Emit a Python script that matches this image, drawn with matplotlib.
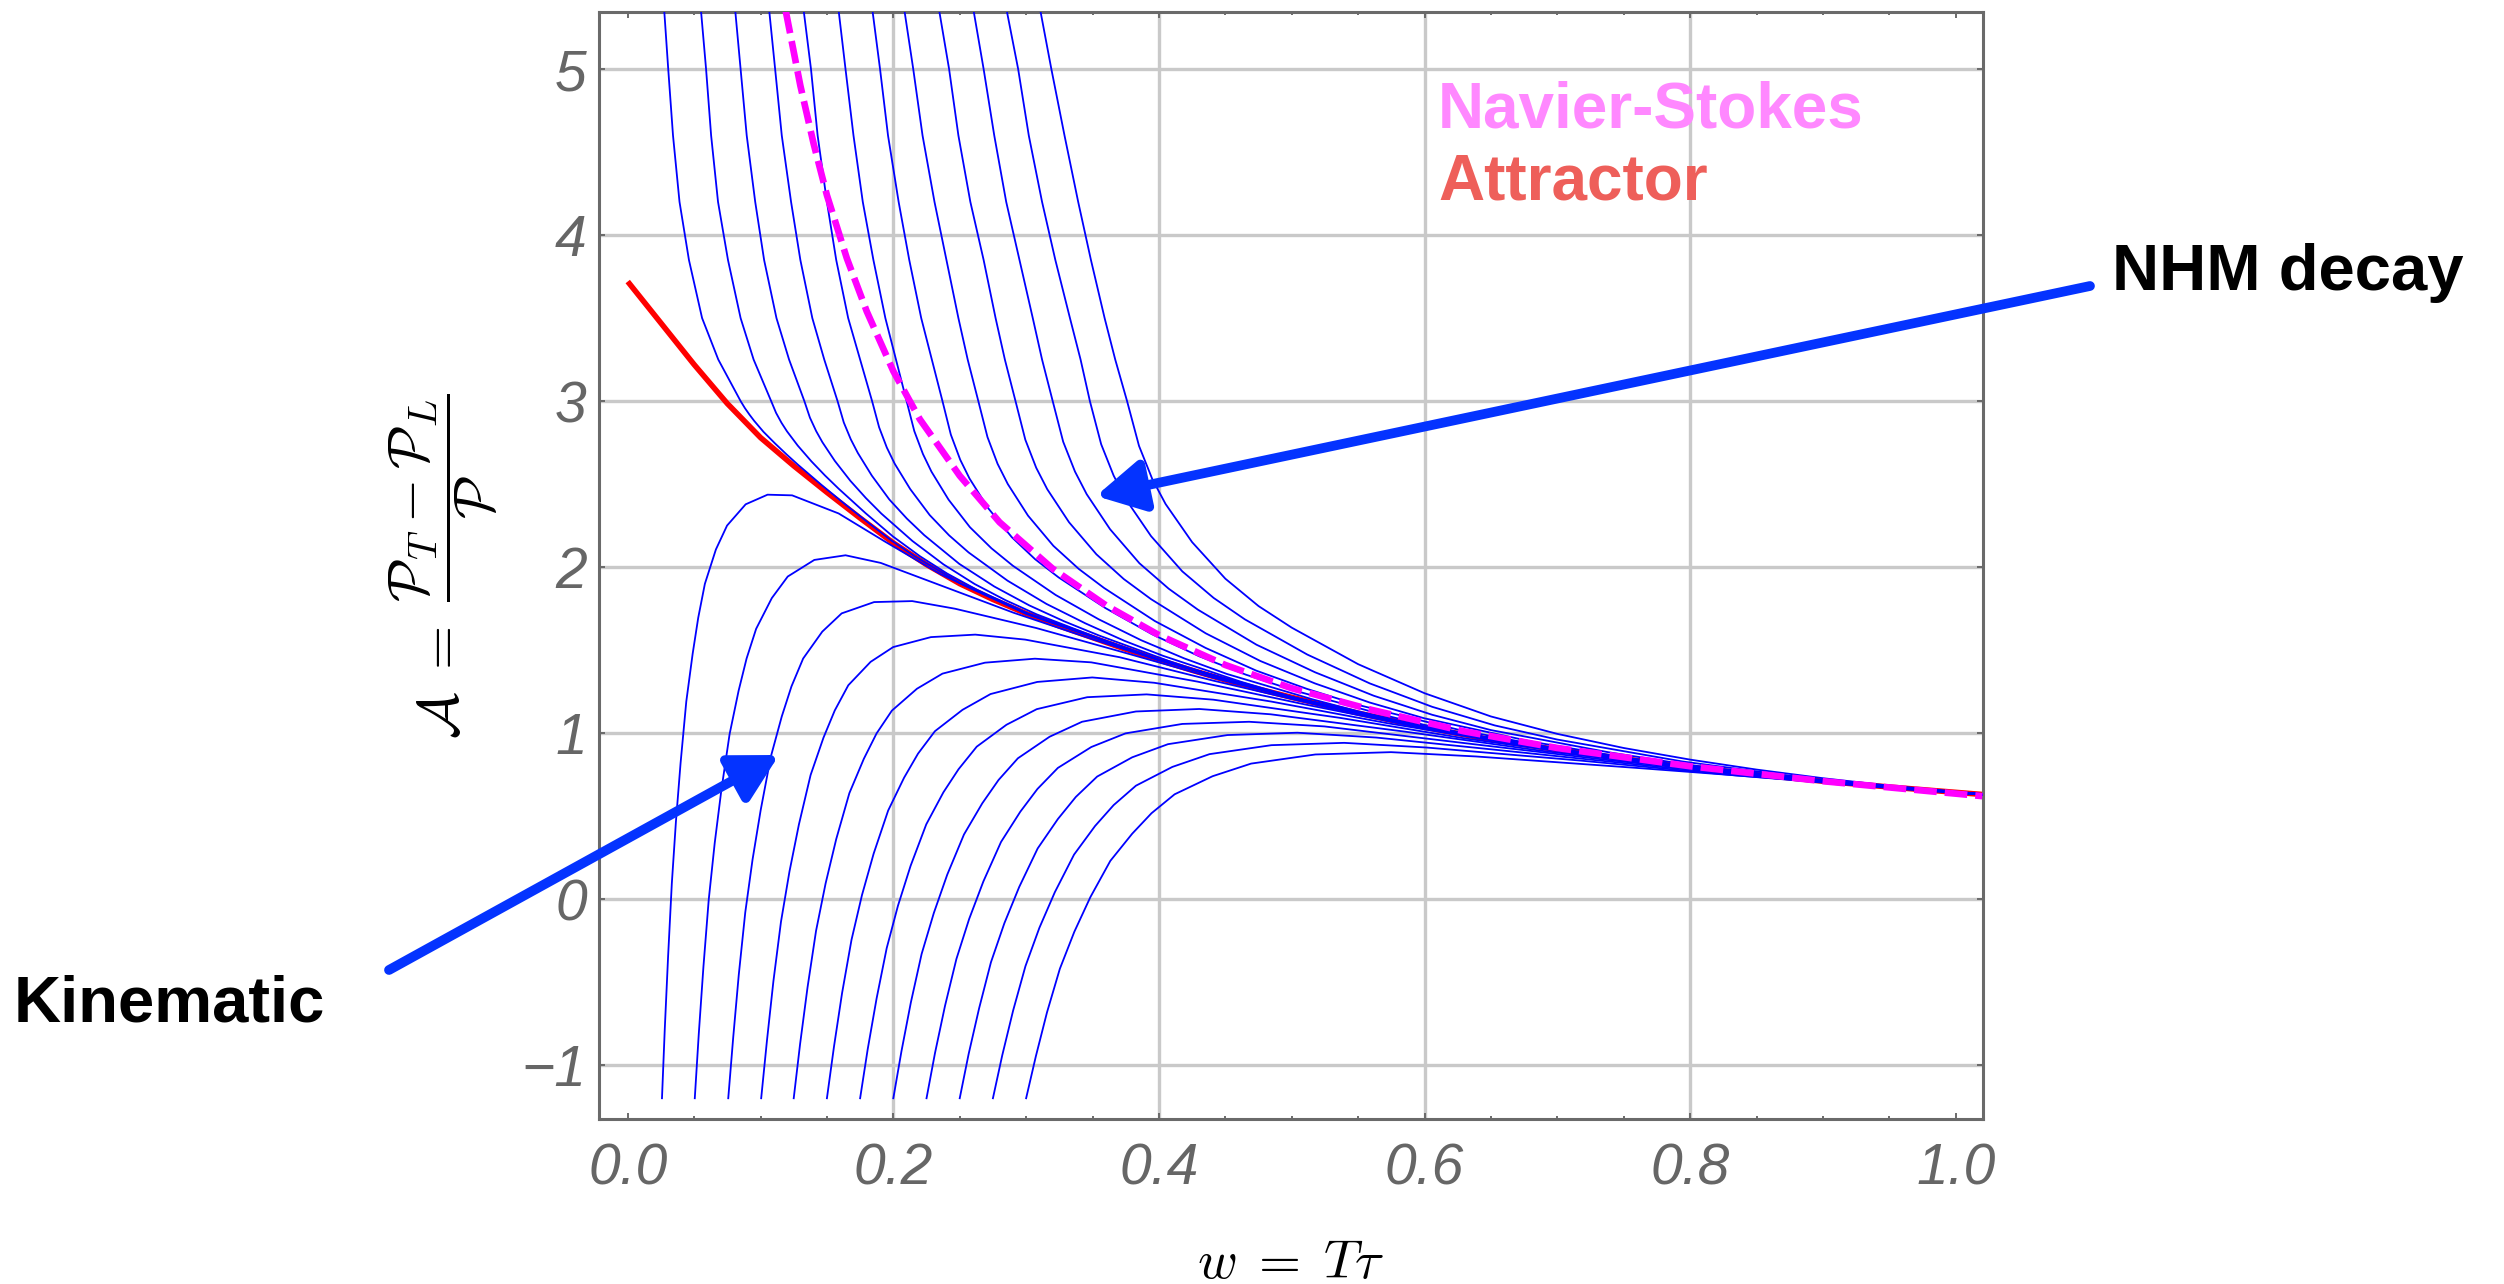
import matplotlib
matplotlib.use("Agg")
import matplotlib.pyplot as plt
from matplotlib.ticker import MultipleLocator

plt.rcParams['mathtext.fontset'] = 'cm'

# ---------------------------------------------------------------- data
# Attractor A(w)
attractor_w = [0.0, 0.025, 0.05, 0.075, 0.1, 0.125, 0.15, 0.175, 0.2, 0.225, 0.25,
               0.275, 0.3, 0.325, 0.35, 0.375, 0.4, 0.425, 0.45, 0.475, 0.5, 0.55,
               0.6, 0.65, 0.7, 0.75, 0.8, 0.85, 0.9, 0.95, 1.02]
attractor_A = [3.72, 3.47, 3.22, 2.985, 2.78, 2.61, 2.45, 2.295, 2.145, 2.015, 1.9,
               1.805, 1.72, 1.645, 1.575, 1.505, 1.44, 1.378, 1.32, 1.265, 1.215, 1.12,
               1.035, 0.96, 0.9, 0.845, 0.795, 0.75, 0.71, 0.675, 0.63]

# Navier-Stokes A(w)
ns_w = [0.119, 0.13, 0.14, 0.15, 0.165, 0.18, 0.2, 0.22, 0.25, 0.28, 0.32, 0.36,
        0.4, 0.45, 0.5, 0.56, 0.63, 0.7, 0.8, 0.9, 1.02]
ns_A = [5.35, 4.90, 4.55, 4.24, 3.86, 3.54, 3.18, 2.89, 2.55, 2.27, 1.99, 1.77,
        1.59, 1.41, 1.27, 1.14, 1.01, 0.91, 0.80, 0.71, 0.62]

# Trajectories starting below the attractor (kinematic regime)
kin_w = [
    [0.0258, 0.0279, 0.0304, 0.0332, 0.0363, 0.0398, 0.0441, 0.0489, 0.0531, 0.0581, 0.0664, 0.0748, 0.0888, 0.1053, 0.1238, 0.1588, 0.1938, 0.2358, 0.3, 0.4, 0.5, 0.6, 0.7, 0.8, 0.9, 1.02],
    [0.0505, 0.0535, 0.057, 0.061, 0.0655, 0.0705, 0.0767, 0.0835, 0.0895, 0.0967, 0.1085, 0.1205, 0.1405, 0.164, 0.1905, 0.2405, 0.2905, 0.3505, 0.4, 0.5, 0.6, 0.7, 0.8, 0.9, 1.02],
    [0.0757, 0.0794, 0.0836, 0.0885, 0.094, 0.1001, 0.1077, 0.116, 0.1233, 0.1321, 0.1465, 0.1611, 0.1855, 0.2142, 0.2465, 0.3075, 0.3685, 0.4417, 0.5, 0.6, 0.7, 0.8, 0.9, 1.02],
    [0.1005, 0.1048, 0.1097, 0.1154, 0.1218, 0.1289, 0.1377, 0.1474, 0.1559, 0.1661, 0.1829, 0.1999, 0.2283, 0.2617, 0.2993, 0.3703, 0.4413, 0.5265, 0.6, 0.7, 0.8, 0.9, 1.02],
    [0.125, 0.1298, 0.1354, 0.1418, 0.149, 0.157, 0.1669, 0.1778, 0.1874, 0.1989, 0.2178, 0.237, 0.269, 0.3066, 0.349, 0.429, 0.509, 0.605, 0.7, 0.8, 0.9, 1.02],
    [0.15, 0.1553, 0.1614, 0.1685, 0.1764, 0.1852, 0.1961, 0.2081, 0.2186, 0.2313, 0.2521, 0.2732, 0.3084, 0.3498, 0.3964, 0.4844, 0.5724, 0.678, 0.8, 0.9, 1.02],
    [0.175, 0.1807, 0.1874, 0.195, 0.2035, 0.213, 0.2248, 0.2377, 0.2491, 0.2628, 0.2852, 0.308, 0.346, 0.3907, 0.441, 0.536, 0.631, 0.745, 0.8, 0.9, 1.02],
    [0.2, 0.2061, 0.2132, 0.2213, 0.2305, 0.2406, 0.2532, 0.267, 0.2792, 0.2938, 0.3177, 0.3421, 0.3827, 0.4304, 0.4842, 0.5857, 0.6872, 0.809, 0.9, 1.02],
    [0.225, 0.2314, 0.2389, 0.2475, 0.2571, 0.2678, 0.2811, 0.2956, 0.3085, 0.3239, 0.3491, 0.3748, 0.4176, 0.4679, 0.5246, 0.6316, 0.7386, 0.867, 0.9, 1.02],
    [0.25, 0.2567, 0.2646, 0.2735, 0.2836, 0.2948, 0.3087, 0.3239, 0.3374, 0.3535, 0.3799, 0.4068, 0.4516, 0.5042, 0.5636, 0.6756, 0.7876, 0.922, 1.02],
    [0.275, 0.282, 0.2902, 0.2995, 0.31, 0.3216, 0.3361, 0.3519, 0.3659, 0.3827, 0.4101, 0.4381, 0.4847, 0.5395, 0.6012, 0.7177, 0.8342, 0.974, 1.02],
    [0.3, 0.3073, 0.3157, 0.3254, 0.3363, 0.3484, 0.3634, 0.3799, 0.3944, 0.4118, 0.4404, 0.4694, 0.5178, 0.5747, 0.6388, 0.7598, 0.8808, 1.02],
]
kin_A = [
    [-1.2, -0.783, -0.346, 0.093, 0.467, 0.819, 1.19, 1.478, 1.695, 1.899, 2.106, 2.25, 2.378, 2.436, 2.432, 2.323, 2.153, 1.956, 1.718, 1.439, 1.214, 1.034, 0.899, 0.794, 0.709, 0.63],
    [-1.2, -0.813, -0.409, -0.004, 0.337, 0.656, 0.993, 1.255, 1.449, 1.628, 1.813, 1.943, 2.043, 2.071, 2.025, 1.875, 1.725, 1.564, 1.439, 1.214, 1.034, 0.899, 0.794, 0.709, 0.63],
    [-1.2, -0.837, -0.458, -0.081, 0.238, 0.535, 0.856, 1.1, 1.281, 1.449, 1.611, 1.721, 1.789, 1.795, 1.749, 1.633, 1.497, 1.331, 1.213, 1.034, 0.899, 0.794, 0.709, 0.63],
    [-1.2, -0.856, -0.495, -0.137, 0.166, 0.449, 0.747, 0.972, 1.136, 1.288, 1.429, 1.518, 1.578, 1.593, 1.563, 1.457, 1.315, 1.156, 1.033, 0.899, 0.794, 0.709, 0.63],
    [-1.2, -0.873, -0.532, -0.192, 0.094, 0.361, 0.638, 0.845, 0.998, 1.135, 1.267, 1.358, 1.424, 1.448, 1.426, 1.31, 1.174, 1.02, 0.898, 0.794, 0.709, 0.63],
    [-1.2, -0.89, -0.567, -0.246, 0.024, 0.274, 0.533, 0.731, 0.876, 1.011, 1.14, 1.235, 1.308, 1.335, 1.303, 1.19, 1.059, 0.919, 0.794, 0.709, 0.63],
    [-1.2, -0.905, -0.599, -0.296, -0.04, 0.2, 0.45, 0.643, 0.782, 0.918, 1.05, 1.144, 1.216, 1.233, 1.201, 1.092, 0.967, 0.843, 0.793, 0.709, 0.63],
    [-1.2, -0.918, -0.623, -0.331, -0.084, 0.147, 0.389, 0.577, 0.717, 0.848, 0.978, 1.068, 1.13, 1.145, 1.113, 1.008, 0.894, 0.78, 0.708, 0.63],
    [-1.2, -0.927, -0.644, -0.361, -0.12, 0.106, 0.344, 0.526, 0.663, 0.79, 0.916, 0.998, 1.055, 1.068, 1.04, 0.938, 0.837, 0.73, 0.708, 0.63],
    [-1.2, -0.934, -0.658, -0.381, -0.146, 0.073, 0.305, 0.482, 0.615, 0.738, 0.854, 0.933, 0.988, 1.002, 0.973, 0.881, 0.788, 0.688, 0.63],
    [-1.2, -0.942, -0.672, -0.404, -0.173, 0.041, 0.268, 0.44, 0.566, 0.683, 0.796, 0.873, 0.927, 0.941, 0.913, 0.834, 0.745, 0.653, 0.63],
    [-1.2, -0.948, -0.683, -0.42, -0.197, 0.012, 0.23, 0.394, 0.517, 0.631, 0.74, 0.816, 0.871, 0.885, 0.859, 0.79, 0.717, 0.63],
]

# Trajectories starting above the attractor (non-hydrodynamic mode decay)
nhm_w = [
    [0.0276, 0.0305, 0.0341, 0.039, 0.0461, 0.056, 0.0682, 0.085, 0.0882, 0.0917, 0.0952, 0.1022, 0.1109, 0.1197, 0.1284, 0.1459, 0.1634, 0.1809, 0.1984, 0.2159, 0.2509, 0.3, 0.4, 0.5, 0.6, 0.7, 0.8, 0.9, 1.02],
    [0.0553, 0.059, 0.0628, 0.068, 0.0755, 0.085, 0.0948, 0.108, 0.1117, 0.1158, 0.1199, 0.128, 0.1383, 0.1485, 0.1587, 0.1792, 0.1996, 0.2201, 0.2405, 0.263, 0.3019, 0.4, 0.5, 0.6, 0.7, 0.8, 0.9, 1.02],
    [0.0811, 0.085, 0.0896, 0.096, 0.1027, 0.112, 0.1215, 0.133, 0.1372, 0.1419, 0.1466, 0.1559, 0.1676, 0.1793, 0.191, 0.2144, 0.2378, 0.2612, 0.2846, 0.308, 0.3548, 0.4, 0.45, 0.5, 0.6, 0.7, 0.8, 0.9, 1.02],
    [0.1067, 0.111, 0.116, 0.123, 0.130, 0.139, 0.148, 0.158, 0.1627, 0.168, 0.1733, 0.1838, 0.197, 0.2102, 0.2233, 0.2497, 0.276, 0.3024, 0.3287, 0.3551, 0.4078, 0.45, 0.5, 0.55, 0.6, 0.7, 0.8, 0.9, 1.02],
    [0.1327, 0.138, 0.143, 0.150, 0.157, 0.166, 0.175, 0.184, 0.1893, 0.1951, 0.201, 0.2127, 0.2274, 0.242, 0.2567, 0.286, 0.3153, 0.3446, 0.3739, 0.4032, 0.4618, 0.5, 0.55, 0.6, 0.7, 0.8, 0.9, 1.02],
    [0.159, 0.164, 0.170, 0.177, 0.185, 0.194, 0.202, 0.210, 0.2158, 0.2223, 0.2287, 0.2416, 0.2577, 0.2739, 0.29, 0.3222, 0.3545, 0.3867, 0.419, 0.4512, 0.5157, 0.55, 0.6, 0.7, 0.8, 0.9, 1.02],
    [0.1845, 0.190, 0.196, 0.204, 0.212, 0.221, 0.229, 0.237, 0.2433, 0.2504, 0.2574, 0.2715, 0.2892, 0.3068, 0.3244, 0.3597, 0.3949, 0.4302, 0.4654, 0.5007, 0.5712, 0.6, 0.65, 0.7, 0.8, 0.9, 1.02],
    [0.2086, 0.215, 0.222, 0.231, 0.240, 0.249, 0.256, 0.264, 0.2709, 0.2785, 0.2862, 0.3014, 0.3205, 0.3396, 0.3587, 0.3969, 0.4351, 0.4733, 0.5115, 0.5497, 0.6261, 0.7, 0.8, 0.9, 1.02],
    [0.2348, 0.242, 0.249, 0.258, 0.268, 0.277, 0.284, 0.292, 0.2994, 0.3076, 0.3159, 0.3323, 0.3529, 0.3735, 0.394, 0.4352, 0.4764, 0.5175, 0.5587, 0.5998, 0.6821, 0.75, 0.8, 0.9, 1.02],
    [0.2607, 0.268, 0.276, 0.285, 0.295, 0.305, 0.312, 0.320, 0.3279, 0.3368, 0.3456, 0.3632, 0.3853, 0.4073, 0.4294, 0.4735, 0.5176, 0.5617, 0.6058, 0.6499, 0.7381, 0.8, 0.9, 1.02],
    [0.2857, 0.294, 0.302, 0.312, 0.322, 0.333, 0.341, 0.348, 0.3565, 0.3659, 0.3753, 0.3941, 0.4176, 0.4412, 0.4647, 0.5117, 0.5588, 0.6058, 0.6529, 0.6999, 0.794, 0.9, 1.02],
    [0.311, 0.319, 0.3289, 0.3392, 0.3488, 0.3591, 0.3671, 0.376, 0.385, 0.395, 0.405, 0.425, 0.45, 0.475, 0.5, 0.55, 0.6, 0.65, 0.7, 0.75, 0.8, 0.85, 0.9, 0.95, 1.02],
]
nhm_A = [
    [5.34, 5.0, 4.6, 4.2, 3.85, 3.5, 3.25, 3.0, 2.958, 2.918, 2.881, 2.815, 2.745, 2.678, 2.615, 2.495, 2.38, 2.269, 2.161, 2.066, 1.899, 1.721, 1.441, 1.216, 1.036, 0.901, 0.796, 0.711, 0.631],
    [5.34, 5.0, 4.6, 4.2, 3.85, 3.5, 3.25, 3.0, 2.929, 2.869, 2.818, 2.732, 2.637, 2.552, 2.473, 2.324, 2.185, 2.065, 1.961, 1.863, 1.719, 1.442, 1.216, 1.036, 0.901, 0.796, 0.711, 0.631],
    [5.34, 5.0, 4.6, 4.2, 3.85, 3.5, 3.25, 3.0, 2.90, 2.819, 2.752, 2.64, 2.52, 2.416, 2.322, 2.157, 2.016, 1.898, 1.80, 1.715, 1.571, 1.443, 1.321, 1.216, 1.036, 0.901, 0.796, 0.711, 0.631],
    [5.34, 5.0, 4.6, 4.2, 3.85, 3.5, 3.25, 3.0, 2.871, 2.769, 2.687, 2.551, 2.407, 2.292, 2.192, 2.019, 1.883, 1.769, 1.673, 1.587, 1.433, 1.323, 1.217, 1.121, 1.036, 0.901, 0.796, 0.711, 0.631],
    [5.34, 5.0, 4.6, 4.2, 3.85, 3.5, 3.25, 3.0, 2.842, 2.72, 2.623, 2.47, 2.313, 2.191, 2.088, 1.918, 1.778, 1.661, 1.556, 1.465, 1.309, 1.219, 1.122, 1.037, 0.901, 0.796, 0.711, 0.631],
    [5.34, 5.0, 4.6, 4.2, 3.85, 3.5, 3.25, 3.0, 2.819, 2.681, 2.575, 2.406, 2.24, 2.113, 2.008, 1.832, 1.686, 1.559, 1.45, 1.356, 1.203, 1.131, 1.039, 0.901, 0.796, 0.711, 0.631],
    [5.34, 5.0, 4.6, 4.2, 3.85, 3.5, 3.25, 3.0, 2.798, 2.646, 2.533, 2.354, 2.18, 2.047, 1.938, 1.753, 1.595, 1.463, 1.352, 1.259, 1.105, 1.049, 0.965, 0.902, 0.796, 0.711, 0.631],
    [5.34, 5.0, 4.6, 4.2, 3.85, 3.5, 3.25, 3.0, 2.783, 2.622, 2.50, 2.31, 2.128, 1.989, 1.874, 1.675, 1.513, 1.376, 1.266, 1.17, 1.019, 0.906, 0.797, 0.711, 0.631],
    [5.34, 5.0, 4.6, 4.2, 3.85, 3.5, 3.25, 3.0, 2.767, 2.598, 2.469, 2.27, 2.077, 1.928, 1.807, 1.601, 1.434, 1.299, 1.184, 1.089, 0.946, 0.854, 0.798, 0.711, 0.631],
    [5.34, 5.0, 4.6, 4.2, 3.85, 3.5, 3.25, 3.0, 2.755, 2.575, 2.439, 2.228, 2.023, 1.87, 1.743, 1.532, 1.366, 1.225, 1.11, 1.018, 0.885, 0.807, 0.712, 0.631],
    [5.34, 5.0, 4.6, 4.2, 3.85, 3.5, 3.25, 3.0, 2.74, 2.551, 2.406, 2.186, 1.974, 1.814, 1.685, 1.473, 1.299, 1.158, 1.046, 0.961, 0.829, 0.716, 0.632],
    [5.34, 5.0, 4.6, 4.2, 3.85, 3.5, 3.25, 3.0, 2.73, 2.53, 2.38, 2.15, 1.93, 1.765, 1.635, 1.415, 1.24, 1.1, 0.995, 0.91, 0.84, 0.78, 0.728, 0.683, 0.633],
]

x_ticks = [0.0, 0.2, 0.4, 0.6, 0.8, 1.0]
y_ticks = [-1, 0, 1, 2, 3, 4, 5]
x_grid = [0.2, 0.4, 0.6, 0.8]
y_grid = [-1, 0, 1, 2, 3, 4, 5]

# ---------------------------------------------------------------- figure
W, H = 2504, 1284
fig = plt.figure(figsize=(W / 100, H / 100), dpi=100)
ax = fig.add_axes([599.3 / W, 1 - 1119 / H, (1982.7 - 599.3) / W, (1119 - 12.3) / H])
ax.set_xlim(-0.0214, 1.0203)
ax.set_ylim(-1.325, 5.342)

grid_color = '#c9c9c9'
for gx in x_grid:
    ax.axvline(gx, color=grid_color, lw=2.4, zorder=0)
for gy in y_grid:
    ax.axhline(gy, color=grid_color, lw=2.4, zorder=0)

ax.plot(attractor_w, attractor_A, color='#ff0000', lw=4.0, zorder=2,
        solid_capstyle='butt')
for xs, ys in zip(kin_w, kin_A):
    ax.plot(xs, ys, color='#0000ff', lw=1.3, zorder=3)
for xs, ys in zip(nhm_w, nhm_A):
    ax.plot(xs, ys, color='#0000ff', lw=1.3, zorder=3)
ax.plot(ns_w, ns_A, color='#ff00ff', lw=4.8, dashes=(3.4, 1.2),
        dash_capstyle='butt', zorder=4)

# axes frame and ticks
ax.set_xticks(x_ticks)
ax.set_yticks(y_ticks)
ax.xaxis.set_minor_locator(MultipleLocator(0.05))
frame_color = '#6a6a6a'
for s in ax.spines.values():
    s.set_color(frame_color)
    s.set_linewidth(2.2)
ax.tick_params(which='both', direction='in', top=True, right=True,
               color=frame_color, width=1.4)
ax.tick_params(which='major', length=4)
ax.tick_params(which='minor', length=2.5)
ax.tick_params(axis='x', which='major', pad=17, labelsize=41, labelcolor='#666666')
ax.tick_params(axis='y', which='major', pad=9, labelsize=41, labelcolor='#666666')
for lab in ax.get_xticklabels() + ax.get_yticklabels():
    lab.set_fontstyle('italic')
    lab.set_family('Liberation Sans')

# axis titles
fig.text(1291 / W, 1 - 1278 / H, r'$w\;=\;T\tau$', ha='center', va='baseline',
         fontsize=39)
fig.text(443 / W, 1 - 566 / H,
         r'$\mathcal{A}\;=\;\dfrac{\mathcal{P}_T - \mathcal{P}_L}{\mathcal{P}}$',
         rotation=90, ha='center', va='center', fontsize=41)

# in-plot legend text
fig.text(1438 / W, 1 - 128 / H, 'Navier-Stokes', ha='left', va='baseline',
         fontsize=46, weight='bold', color='#ff88ff', family='Liberation Sans')
fig.text(1438 / W, 1 - 200 / H, 'Attractor', ha='left', va='baseline',
         fontsize=46, weight='bold', color='#ee5f5a', family='Liberation Sans')

# annotations
fig.text(2112 / W, 1 - 290 / H, 'NHM decay', ha='left', va='baseline',
         fontsize=47, weight='bold', color='black', family='Liberation Sans')
fig.text(14 / W, 1 - 1021 / H, 'Kinematic', ha='left', va='baseline',
         fontsize=47, weight='bold', color='black', family='Liberation Sans')

arrow_color = '#0433ff'
arrow_props = dict(arrowstyle='-|>,head_length=0.55,head_width=0.3',
                   color=arrow_color, lw=7, shrinkA=0, shrinkB=0,
                   mutation_scale=52)
ax.annotate('', xy=(1096, H - 496), xytext=(2090, H - 286),
            xycoords='figure pixels', textcoords='figure pixels',
            arrowprops=arrow_props, annotation_clip=False)
ax.annotate('', xy=(779, H - 755), xytext=(389, H - 970),
            xycoords='figure pixels', textcoords='figure pixels',
            arrowprops=arrow_props, annotation_clip=False)

fig.savefig('out.png', dpi=100)
